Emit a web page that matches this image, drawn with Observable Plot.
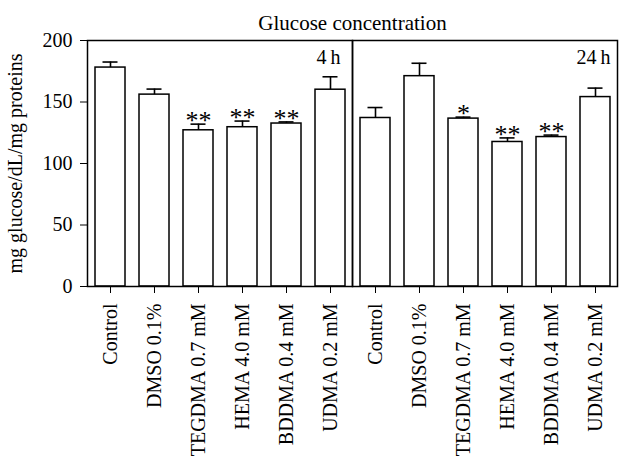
<!DOCTYPE html>
<html>
<head>
<meta charset="utf-8">
<script src="https://cdn.jsdelivr.net/npm/d3@7"></script>
<script src="https://cdn.jsdelivr.net/npm/@observablehq/plot@0.6"></script>
<style>
  html, body { margin: 0; padding: 0; background: #fff; }
  g[aria-label="x-axis tick label"] { font-size: 20px; }
</style>
</head>
<body>
<div id="chart"></div>
<script>
const treatments = ["Control", "DMSO 0.1%", "TEGDMA 0.7 mM", "HEMA 4.0 mM", "BDDMA 0.4 mM", "UDMA 0.2 mM"];
const times = ["4h", "24h"];
const timeLabels = ["4\u2009h", "24\u2009h"];
const mean4h = [178, 156, 127, 129.5, 132.5, 160];
const err4h = [4.5, 4.5, 5, 5, 1.3, 10.5];
const sig4h = ["", "", "**", "**", "**", ""];
const mean24h = [137, 171, 136.5, 117.5, 121.5, 154];
const err24h = [8.5, 10.5, 1.2, 3.3, 1.6, 7.3];
const sig24h = ["", "", "*", "**", "**", ""];
const yTicks = [0, 50, 100, 150, 200];
const title = "Glucose concentration";
const yLabel = "mg glucose/dL/mg proteins";

const rows = [
  ...treatments.map((t, i) => ({time: "4h", treatment: t, mean: mean4h[i], err: err4h[i], sig: sig4h[i]})),
  ...treatments.map((t, i) => ({time: "24h", treatment: t, mean: mean24h[i], err: err24h[i], sig: sig24h[i]}))
];
const panels = times.map((t, i) => ({time: t, label: timeLabels[i]}));

const chart = Plot.plot({
  width: 619,
  height: 462,
  marginTop: 40,
  marginBottom: 176,
  marginLeft: 86,
  marginRight: 2,
  style: {fontFamily: "'Liberation Serif', serif", fontSize: "20px", color: "black", background: "white"},
  fx: {domain: times, padding: 0, axis: null, label: null},
  x: {domain: treatments, paddingInner: 0.32, paddingOuter: 0.16, tickSize: 7, tickPadding: 10, tickRotate: -90, label: null},
  y: {domain: [0, 200], ticks: yTicks, tickSize: 7, tickPadding: 8, label: yLabel, labelAnchor: "center", labelOffset: 80, labelArrow: "none"},
  marks: [
    Plot.barY(rows, {fx: "time", x: "treatment", y: "mean", fill: "white", stroke: "black", strokeWidth: 1.5}),
    Plot.ruleX(rows, {fx: "time", x: "treatment", y1: "mean", y2: d => d.mean + d.err, stroke: "black", strokeWidth: 1.6}),
    Plot.tickY(rows, {fx: "time", x: "treatment", y: d => d.mean + d.err, insetLeft: 7.5, insetRight: 7.5, stroke: "black", strokeWidth: 1.6}),
    Plot.text(rows, {fx: "time", x: "treatment", y: d => d.mean + d.err, text: "sig", lineAnchor: "bottom", dy: 5, fontSize: 26, fill: "black"}),
    Plot.frame({stroke: "black", strokeWidth: 1.5}),
    Plot.text(panels.filter(d => d.time === "4h"), {fx: "time", text: "label", frameAnchor: "top-right", lineAnchor: "top", textAnchor: "end", dx: -12, dy: 9, fontSize: 20}),
    Plot.text(panels.filter(d => d.time === "24h"), {fx: "time", text: "label", frameAnchor: "top-right", lineAnchor: "top", textAnchor: "end", dx: -7, dy: 9, fontSize: 20}),
    Plot.text([{time: "4h", t: title}], {fx: "time", text: "t", frameAnchor: "top-right", textAnchor: "middle", lineAnchor: "bottom", dy: -11, fontSize: 21})
  ]
});
document.getElementById("chart").appendChild(chart);
</script>
</body>
</html>
